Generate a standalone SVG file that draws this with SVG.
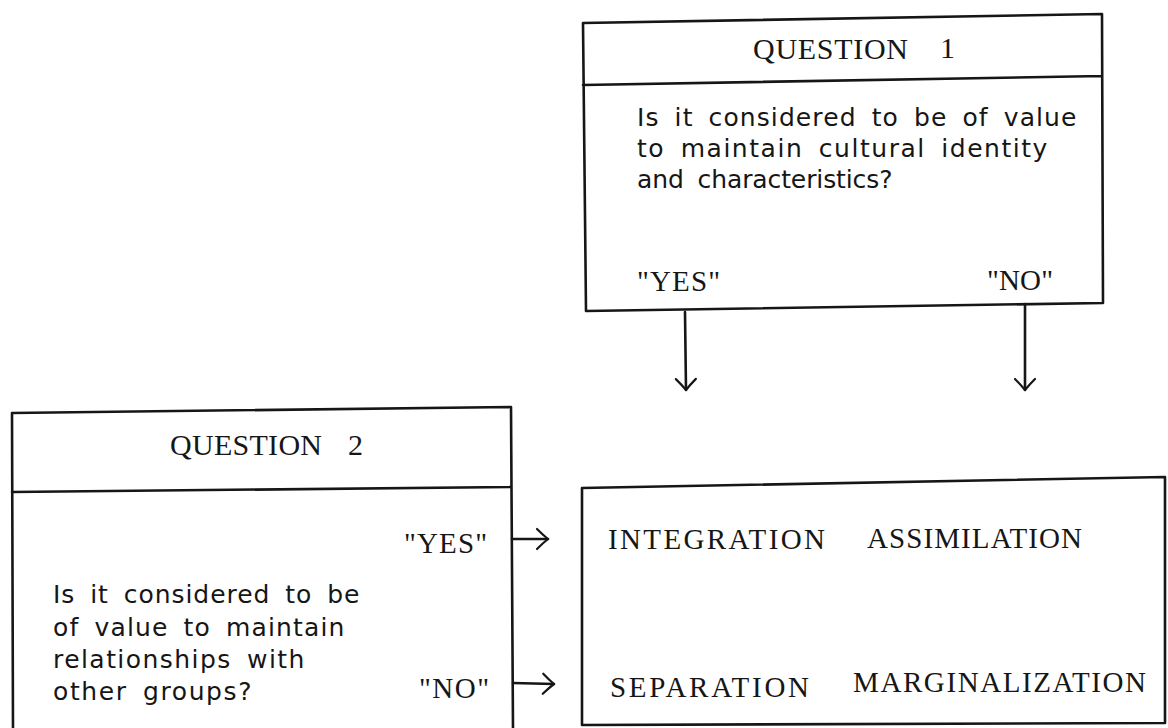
<svg xmlns="http://www.w3.org/2000/svg" width="1168" height="728" viewBox="0 0 1168 728">
  <style>
    .ln { fill: none; stroke: #161616; stroke-width: 2.6; stroke-linecap: round; stroke-linejoin: round; }
    .cap { font-family: "Liberation Serif", "Times New Roman", serif; fill: #161616; }
    .q { font-size: 30px; }
    .ans { font-size: 29px; }
    .res { font-size: 29px; }
    .body { font-family: "DejaVu Sans", "Noto Sans", sans-serif; font-size: 25px; fill: #161616; letter-spacing: 0.6px; word-spacing: 6px; }
  </style>
  <defs>
    <!-- open, slightly curved arrowhead -->
    <marker id="ah" viewBox="-14 -13 16 26" refX="0" refY="0" markerWidth="16" markerHeight="26" markerUnits="userSpaceOnUse" orient="auto">
      <path d="M-11,-10 Q-5,-4 0,0 Q-5,4 -11,10" fill="none" stroke="#161616" stroke-width="2.2" stroke-linecap="round" stroke-linejoin="round"/>
    </marker>
  </defs>

  <rect width="1168" height="728" fill="#ffffff"/>

  <!-- Question 1 -->
  <g id="question-1">
    <path class="ln" d="M583,23 L1102,14 M583,85 L1102,76 M583,23 L586,311 L1103,303 M1102,14 L1103,303"/>
    <text class="cap q" x="753" y="59" textLength="155" lengthAdjust="spacing">QUESTION</text>
    <text class="cap q" x="940" y="58">1</text>
    <text class="body" x="637" y="126" textLength="440" lengthAdjust="spacing">Is it considered to be of value</text>
    <text class="body" x="637" y="157" textLength="411" lengthAdjust="spacing">to maintain cultural identity</text>
    <text class="body" x="637" y="188" textLength="256" lengthAdjust="spacing">and characteristics?</text>
    <text class="cap ans" x="637" y="291" textLength="83" lengthAdjust="spacing">"YES"</text>
    <text class="cap ans" x="987" y="290" textLength="66" lengthAdjust="spacing">"NO"</text>
  </g>

  <!-- Question 2 -->
  <g id="question-2">
    <path class="ln" d="M12,413 L511,407 M12,492 L511,487 M12,413 L13,729 M511,407 L513,729"/>
    <text class="cap q" x="170" y="455" textLength="152" lengthAdjust="spacing">QUESTION</text>
    <text class="cap q" x="348" y="455">2</text>
    <text class="cap ans" x="404" y="553" textLength="83" lengthAdjust="spacing">"YES"</text>
    <text class="body" x="53" y="603" textLength="307" lengthAdjust="spacing">Is it considered to be</text>
    <text class="body" x="53" y="636" textLength="292" lengthAdjust="spacing">of value to maintain</text>
    <text class="body" x="53" y="668" textLength="252" lengthAdjust="spacing">relationships with</text>
    <text class="body" x="53" y="700" textLength="199" lengthAdjust="spacing">other groups?</text>
    <text class="cap ans" x="419" y="698" textLength="70" lengthAdjust="spacing">"NO"</text>
  </g>

  <!-- Outcomes -->
  <g id="outcomes">
    <path class="ln" d="M582,488 L1165,477 L1165,723 L582,725 Z"/>
    <text class="cap res" x="608" y="549" textLength="217" lengthAdjust="spacing">INTEGRATION</text>
    <text class="cap res" x="867" y="548" textLength="215" lengthAdjust="spacing">ASSIMILATION</text>
    <text class="cap res" x="610" y="697" textLength="199" lengthAdjust="spacing">SEPARATION</text>
    <text class="cap res" x="853" y="692" textLength="293" lengthAdjust="spacing">MARGINALIZATION</text>
  </g>

  <!-- Connectors -->
  <g id="connectors">
    <path class="ln" d="M685,312 L686,390" marker-end="url(#ah)"/>
    <path class="ln" d="M1025,304 L1025,390" marker-end="url(#ah)"/>
    <path class="ln" d="M512,539 L548,539" marker-end="url(#ah)"/>
    <path class="ln" d="M513,683 L554,684" marker-end="url(#ah)"/>
  </g>
</svg>
